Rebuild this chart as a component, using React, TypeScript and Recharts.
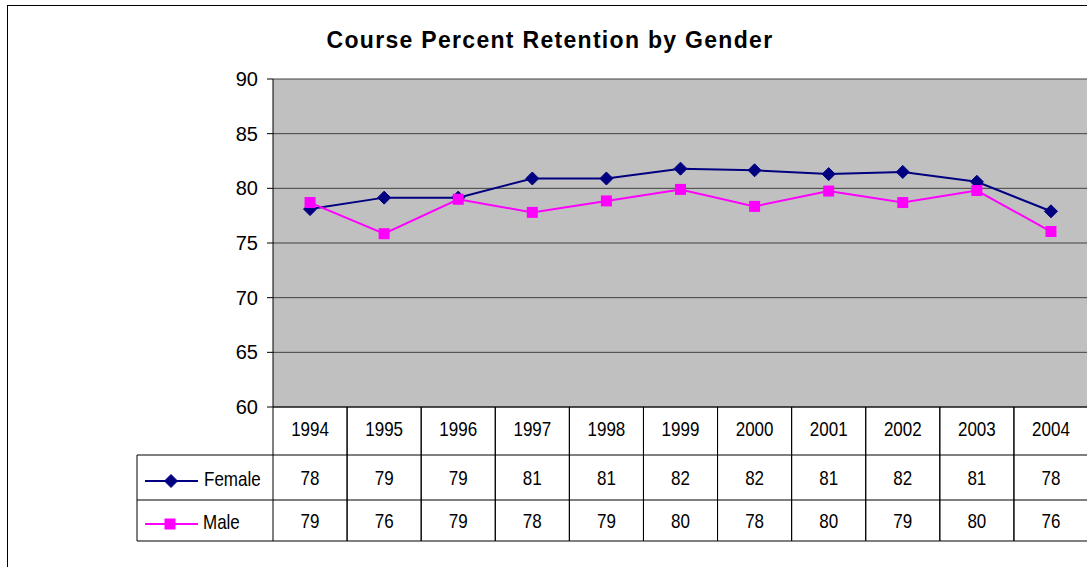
import React from 'react';
import { LineChart, Line, XAxis, YAxis, CartesianGrid } from 'recharts';

const years = ['1994', '1995', '1996', '1997', '1998', '1999', '2000', '2001', '2002', '2003', '2004'];
const female = [78.1, 79.15, 79.15, 80.9, 80.9, 81.8, 81.65, 81.3, 81.5, 80.6, 77.9];
const male = [78.7, 75.85, 79.0, 77.8, 78.85, 79.9, 78.35, 79.75, 78.7, 79.8, 76.05];
const femaleLabels = ['78', '79', '79', '81', '81', '82', '82', '81', '82', '81', '78'];
const maleLabels = ['79', '76', '79', '78', '79', '80', '78', '80', '79', '80', '76'];
const yTicks = [60, 65, 70, 75, 80, 85, 90];

const data = years.map((y, i) => ({ i, year: y, Female: female[i], Male: male[i] }));

const NAVY = '#000080';
const MAGENTA = '#FF00FF';
const PLOT_LEFT = 273;
const PLOT_RIGHT = 1088;
const PLOT_TOP = 79;
const PLOT_BOTTOM = 407;
const CELL_W = (PLOT_RIGHT - PLOT_LEFT) / years.length;
const ROW1 = 455;
const ROW2 = 500;
const ROW3 = 541;
const TABLE_FONT = "'Liberation Sans', Arial, sans-serif";

const Diamond = (props: any) => {
  const { cx, cy } = props;
  if (cx == null || cy == null) return null;
  const r = 6.5;
  return <path d={`M${cx},${cy - r}L${cx + r},${cy}L${cx},${cy + r}L${cx - r},${cy}Z`} fill={NAVY} stroke={NAVY} />;
};

const Square = (props: any) => {
  const { cx, cy } = props;
  if (cx == null || cy == null) return null;
  const s = 11;
  return <rect x={cx - s / 2} y={cy - s / 2} width={s} height={s} fill={MAGENTA} />;
};

const NarrowText = ({ x, y, anchor = 'middle', children }: any) => (
  <g transform={`translate(${x},${y}) scale(0.85,1)`}>
    <text x={0} y={0} textAnchor={anchor} dominantBaseline="central" fill="#000" fontFamily={TABLE_FONT} fontSize={20}>
      {children}
    </text>
  </g>
);

const TableTick = (props: any) => {
  const { x, payload } = props;
  const idx = Math.round(payload.value);
  const left = x - CELL_W / 2;
  const right = x + CELL_W / 2;
  return (
    <g>
      <line x1={left} y1={PLOT_BOTTOM} x2={left} y2={ROW3} stroke="#000" strokeWidth={1} />
      <line x1={right} y1={PLOT_BOTTOM} x2={right} y2={ROW3} stroke="#000" strokeWidth={1} />
      <line x1={left} y1={ROW1} x2={right} y2={ROW1} stroke="#000" strokeWidth={1} />
      <line x1={left} y1={ROW2} x2={right} y2={ROW2} stroke="#000" strokeWidth={1} />
      <line x1={left} y1={ROW3} x2={right} y2={ROW3} stroke="#000" strokeWidth={1} />
      <NarrowText x={x} y={429}>{years[idx]}</NarrowText>
      <NarrowText x={x} y={478}>{femaleLabels[idx]}</NarrowText>
      <NarrowText x={x} y={521}>{maleLabels[idx]}</NarrowText>
      {idx === 0 && (
        <g>
          <line x1={137} y1={ROW1} x2={left} y2={ROW1} stroke="#000" />
          <line x1={137} y1={ROW2} x2={left} y2={ROW2} stroke="#000" />
          <line x1={137} y1={ROW3} x2={left} y2={ROW3} stroke="#000" />
          <line x1={137} y1={ROW1} x2={137} y2={ROW3} stroke="#000" />
          <line x1={145} y1={481} x2={198} y2={481} stroke={NAVY} strokeWidth={2} />
          <Diamond cx={171} cy={481} />
          <NarrowText x={204} y={479} anchor="start">Female</NarrowText>
          <line x1={145} y1={524} x2={198} y2={524} stroke={MAGENTA} strokeWidth={2} />
          <Square cx={170} cy={524} />
          <NarrowText x={203} y={522} anchor="start">Male</NarrowText>
        </g>
      )}
    </g>
  );
};

export default function App() {
  return (
    <div style={{ position: 'absolute', left: 0, top: 0, width: 1087, height: 567, overflow: 'hidden', background: '#fff' }}>
      <div style={{ position: 'absolute', left: 7, top: 5, width: 1200, height: 700, borderLeft: '1px solid #000', borderTop: '1px solid #000' }} />
      <div style={{ position: 'absolute', left: 0, width: 1100, top: 25, textAlign: 'center', fontFamily: "'Liberation Sans', Arial, sans-serif", fontWeight: 'bold', fontSize: 23, letterSpacing: '1.3px', lineHeight: '30px', whiteSpace: 'nowrap' }}>
        Course Percent Retention by Gender
      </div>
      <div style={{ position: 'absolute', left: 0, top: 0 }}>
        <LineChart width={1100} height={567} data={data} margin={{ top: PLOT_TOP, left: PLOT_LEFT - 60, right: 1100 - PLOT_RIGHT, bottom: 0 }}>
          <CartesianGrid vertical={false} horizontal={true} stroke="#404040" fill="#C0C0C0" fillOpacity={1} />
          <XAxis
            dataKey="i"
            type="number"
            domain={[-0.5, years.length - 0.5]}
            ticks={years.map((_, i) => i)}
            interval={0}
            height={567 - PLOT_BOTTOM}
            tickLine={false}
            axisLine={{ stroke: '#000', strokeWidth: 1 }}
            tick={<TableTick />}
          />
          <YAxis
            type="number"
            domain={[60, 90]}
            ticks={yTicks}
            width={60}
            tickSize={6}
            tickMargin={9}
            axisLine={{ stroke: '#000' }}
            tickLine={{ stroke: '#000' }}
            tick={{ fill: '#000', fontSize: 20, fontFamily: "'Liberation Sans', Arial, sans-serif" }}
          />
          <Line dataKey="Female" stroke={NAVY} strokeWidth={2} dot={<Diamond />} activeDot={false} isAnimationActive={false} />
          <Line dataKey="Male" stroke={MAGENTA} strokeWidth={2} dot={<Square />} activeDot={false} isAnimationActive={false} />
        </LineChart>
      </div>
    </div>
  );
}
